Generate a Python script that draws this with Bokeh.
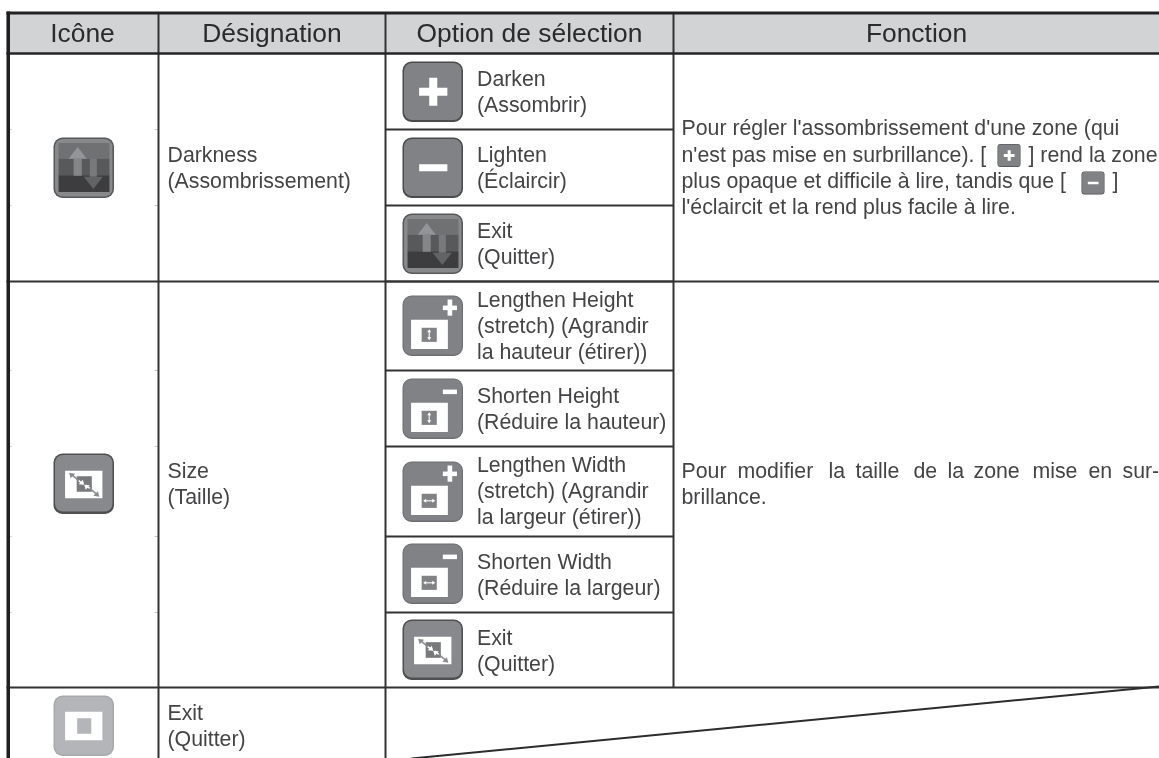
from bokeh.plotting import figure
from bokeh.models import Range1d
from bokeh.core.properties import value
from bokeh.embed import file_html
from bokeh.resources import INLINE

# ---------- table content ----------
HEADERS = ["Icône", "Désignation", "Option de sélection", "Fonction"]
DESIGNATIONS = [["Darkness", "(Assombrissement)"], ["Size", "(Taille)"], ["Exit", "(Quitter)"]]
OPTIONS = [
    ["Darken", "(Assombrir)"],
    ["Lighten", "(Éclaircir)"],
    ["Exit", "(Quitter)"],
    ["Lengthen Height", "(stretch) (Agrandir", "la hauteur (étirer))"],
    ["Shorten Height", "(Réduire la hauteur)"],
    ["Lengthen Width", "(stretch) (Agrandir", "la largeur (étirer))"],
    ["Shorten Width", "(Réduire la largeur)"],
    ["Exit", "(Quitter)"],
]
OPTION_ICONS = ["plus", "minus", "dark", "hplus", "hminus", "wplus", "wminus", "size"]
MAIN_ICONS = ["dark", "size", "exit"]
FUNC1 = ["Pour régler l'assombrissement d'une zone (qui",
         "n'est pas mise en surbrillance). [", "] rend la zone",
         "plus opaque et difficile à lire, tandis que [", "]",
         "l'éclaircit et la rend plus facile à lire."]
FUNC2_WORDS = ["Pour", "modifier", "la", "taille", "de", "la", "zone", "mise", "en", "sur-"]
FUNC2_LAST = "brillance."

# ---------- page layout ----------
COL = [158, 385, 673]
ROW_MAIN = [53, 281, 687]
ROW_OPT = [53, 129, 205, 281, 370, 446, 536, 612, 687]
MAIN_ICON_TOP = [137, 453, 695]
OPT_ICON_TOP = [61, 137, 213, 295, 378, 461, 543, 619]
FUNC2_X = [681, 737, 828, 855, 913, 947, 973, 1032, 1088, 1122]

W, H = 1159, 758
FONT = value("Liberation Sans")
INK = "#444446"
BODY = 21.3

p = figure(width=W, height=H, output_backend="svg", toolbar_location=None,
           x_range=Range1d(0, W), y_range=Range1d(H, 0), x_axis_type="linear",
           min_border=0, outline_line_color=None, background_fill_color="white",
           border_fill_color="white", styles={"position": "fixed", "left": "0px", "top": "0px"})
p.axis.visible = False
p.grid.visible = False


def txt(x, y, s, size=BODY, align="left", color=INK, lift=0.35):
    p.text([x], [y - lift * size], text=[s], text_font=FONT, text_font_size=f"{size}px",
           text_align=align, text_baseline="alphabetic", text_color=color)


def box(x0, y0, x1, y1, color, radius=0):
    p.quad(left=[x0], right=[x1], top=[y0], bottom=[y1], fill_color=color, line_color=None,
           border_radius=int(radius))


def poly(xs, ys, color):
    p.patch(xs, ys, fill_color=color, line_color=None)


def seg(x0, y0, x1, y1, w=2, color="#333335"):
    p.segment([x0], [y0], [x1], [y1], line_width=w, line_color=color)


def icon(kind, x, y, s=60.5):
    k = s / 60.0
    def X(v): return x + v * k
    def Y(v): return y + v * k
    def R(a, b, c, d, col, r=0): box(X(a), Y(b), X(c), Y(d), col, r)
    r = max(3, round(9 * k))
    if kind in ("plus", "minus"):
        R(0, 0, 60, 60, "#4a4b4d", r)
        R(1.5, 1.5, 58.5, 58, "#808285", r - 1)
        if kind == "plus":
            R(16.5, 26, 44.5, 34, "#ffffff")
            R(26.5, 16, 34.5, 44, "#ffffff")
        else:
            R(16.5, 26.5, 44.5, 33.5, "#ffffff")
    elif kind == "dark":
        R(0, 0, 60, 60, "#57585a", r)
        R(1.5, 1.5, 58.5, 58.5, "#87898b", r - 1)
        R(5, 5.5, 55.5, 21, "#6f7173")
        R(5, 21, 55.5, 37.5, "#58595b")
        R(5, 37.5, 55.5, 54, "#3d3d3f")
        poly([X(15), X(24), X(33)], [Y(21), Y(9.5), Y(21)], "#939598")
        R(20, 21, 28, 38, "#848688")
        R(36, 21, 43, 39, "#77797b")
        poly([X(30), X(39.5), X(49)], [Y(39), Y(51), Y(39)], "#626365")
    elif kind == "size":
        R(0, 0, 60, 60, "#4e4f51", r)
        R(1.5, 1.5, 58.5, 57.5, "#87898c", r - 1)
        R(11.5, 17, 48.5, 44.5, "#ffffff")
        R(23, 22.5, 38, 38, "#77797c")
        seg(X(18), Y(21), X(25), Y(27), 1.6, "#8a8c8f")
        seg(X(25), Y(27), X(29), Y(30), 1.6, "#ffffff")
        seg(X(32), Y(31.5), X(36), Y(34.5), 1.6, "#ffffff")
        seg(X(36), Y(34.5), X(43), Y(40.5), 1.6, "#8a8c8f")
        poly([X(15.5), X(21.5), X(17)], [Y(19), Y(20), Y(24.5)], "#8a8c8f")
        poly([X(45.5), X(39.5), X(44)], [Y(43), Y(42), Y(37.5)], "#8a8c8f")
        poly([X(30.5), X(25), X(29)], [Y(31), Y(30.5), Y(26)], "#ffffff")
        poly([X(30.5), X(36), X(32)], [Y(31), Y(31.5), Y(36)], "#ffffff")
    elif kind == "exit":
        R(0, 0, 60, 60, "#a8aaad", r)
        R(1.5, 1.5, 58.5, 58.5, "#b3b5b8", r - 1)
        R(11.5, 16, 48.5, 44.5, "#ffffff")
        R(23.5, 22.5, 37.5, 38, "#b3b5b8")
    else:
        R(0, 0, 60, 60, "#6d6e71", r)
        R(1, 1, 59, 58.5, "#808285", r - 1)
        R(8.5, 24, 45, 53, "#ffffff")
        R(19, 32, 34, 46, "#808285")
        if kind[1:] == "plus":
            R(40, 10, 54, 14.5, "#ffffff")
            R(44.7, 4, 49.3, 20, "#ffffff")
        else:
            R(40, 11, 54, 15.5, "#ffffff")
        if kind[0] == "h":
            seg(X(26.5), Y(35), X(26.5), Y(43), 1.1, "#ffffff")
            poly([X(24.5), X(26.5), X(28.5)], [Y(36.5), Y(33.5), Y(36.5)], "#ffffff")
            poly([X(24.5), X(26.5), X(28.5)], [Y(41.5), Y(44.5), Y(41.5)], "#ffffff")
        else:
            seg(X(22), Y(39), X(31), Y(39), 1.1, "#ffffff")
            poly([X(23.5), X(20.5), X(23.5)], [Y(37), Y(39), Y(41)], "#ffffff")
            poly([X(29.5), X(32.5), X(29.5)], [Y(37), Y(39), Y(41)], "#ffffff")


# header band
box(6, 12, W, 53, "#d1d3d4")

# faint registration marks beside the vertical rules
for y in ROW_OPT[1:3] + ROW_OPT[4:8]:
    seg(6, y, 11, y, 1, "#c8c8c8")
    seg(COL[0] - 4, y, COL[0], y, 1, "#c8c8c8")

# rules
seg(COL[0], 12, COL[0], H, 2)
seg(COL[1], 12, COL[1], H, 2)
seg(COL[2], 12, COL[2], ROW_OPT[-1], 2)
seg(6, 12.5, W, 12.5, 3.2, "#222224")
seg(6, 53, W, 53, 2.4, "#252527")
for y in ROW_OPT[1:-1]:
    seg(COL[1], y, COL[2], y, 2)
for y in ROW_MAIN[1:]:
    seg(6, y, W, y, 2)
box(6, 11, 9.5, H, "#1f1f21")
seg(411, H, W, 686, 2, "#2c2c2e")

# headers
CENTERS = [82, 271.5, 529, 916]
for cx, label in zip(CENTERS, HEADERS):
    txt(cx, 43, label, 26.4, "center", "#2b2b2d", 0.38)

# main column
for top, kind, lines, base in zip(MAIN_ICON_TOP, MAIN_ICONS, DESIGNATIONS, [162, 478, 720]):
    icon(kind, 53, top)
    for i, s in enumerate(lines):
        txt(167, base + 26 * i, s)

# option column
OPT_BASE = [86, 162, 238, 307, 403, 472, 569, 645]
for top, kind, lines, base in zip(OPT_ICON_TOP, OPTION_ICONS, OPTIONS, OPT_BASE):
    icon(kind, 402, top)
    for i, s in enumerate(lines):
        txt(476.5, base + 26 * i, s)

# function column, first block
txt(681, 135, FUNC1[0])
txt(681, 161.5, FUNC1[1])
icon("plus", 997, 143.5, 23)
txt(1028, 161.5, FUNC1[2])
txt(681, 187.5, FUNC1[3])
icon("minus", 1081, 171, 23)
txt(1112, 187.5, FUNC1[4])
txt(681, 213.5, FUNC1[5])

# function column, second block (justified first line)
for x, w in zip(FUNC2_X, FUNC2_WORDS):
    txt(x, 478, w)
txt(681, 504, FUNC2_LAST)

open("out.html", "w").write(file_html(p, INLINE))
